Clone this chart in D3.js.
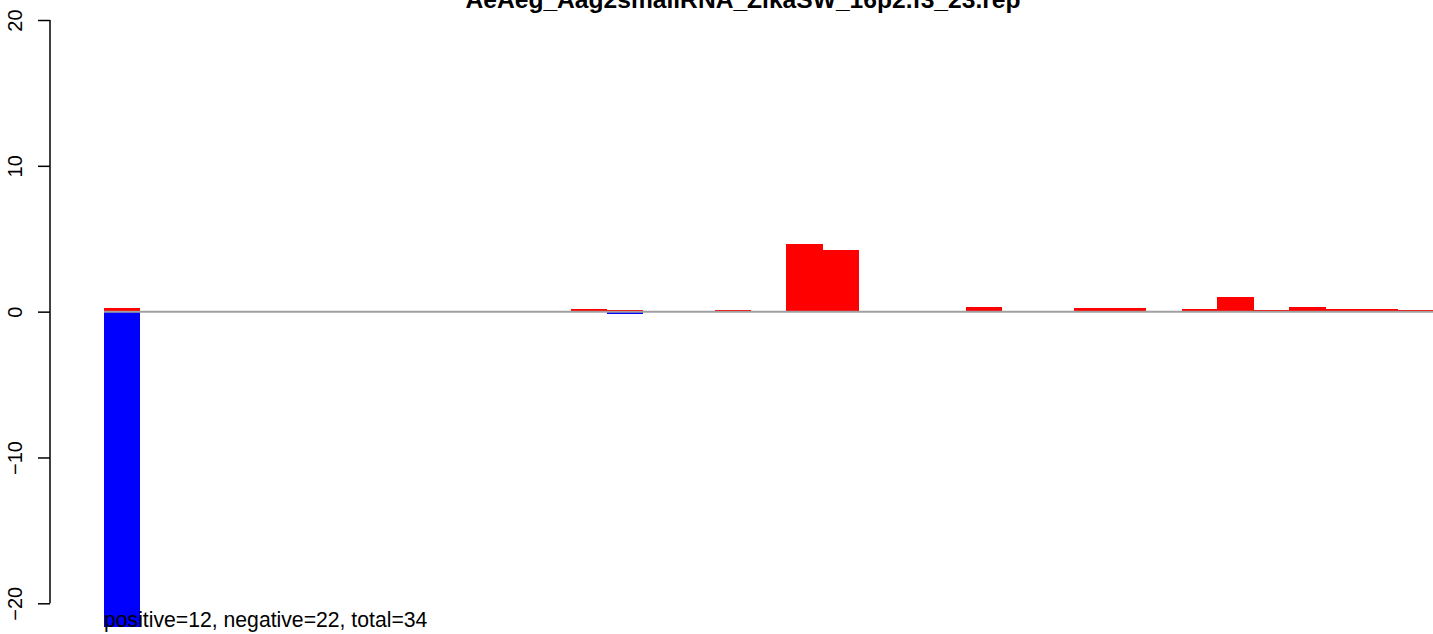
<!DOCTYPE html>
<html>
<head>
<meta charset="utf-8">
<script src="https://cdn.jsdelivr.net/npm/d3@7"></script>
<style>
  html, body { margin: 0; padding: 0; background: #fff; }
  svg { display: block; }
  text { font-family: "Liberation Sans", Arial, Helvetica, sans-serif; }
</style>
</head>
<body>
<svg id="chart" width="1433" height="634"></svg>
<script>
// ---- data ----
const titleText = "AeAeg_Aag2smallRNA_ZikaSW_16p2.f3_23.rep";
const positions = d3.range(37);               // bar bins (0..36)
const positiveValues = [0.25,0,0,0,0,0,0,0,0,0,0,0,0,0.18,0.12,0,0,0.12,0,4.64,4.23,0,0,0,0.34,0,0,0.25,0.25,0,0.18,1.03,0.12,0.32,0.18,0.18,0.12];
const negativeValues = [-21.6,0,0,0,0,0,0,0,0,0,0,0,0,0,-0.15,0,0,0,0,0,0,0,0,0,0,0,0,0,0,0,0,0,0,0,0,0,0];
const yTicks = [-20, -10, 0, 10, 20];
const footnote = "positive=12, negative=22, total=34";

// ---- layout ----
const svg = d3.select("#chart");
const x = d3.scaleBand().domain(positions).range([104, 1433]).padding(0);
const y = d3.scaleLinear().domain([-20, 20]).range([603.3, 20]);

// bars
svg.append("g").attr("shape-rendering", "crispEdges").selectAll("rect")
  .data(positions.filter(i => positiveValues[i] !== 0))
  .join("rect")
  .attr("x", i => x(i))
  .attr("width", x.bandwidth() + 0.5)
  .attr("y", i => y(positiveValues[i]))
  .attr("height", i => y(0) - y(positiveValues[i]))
  .attr("fill", "#ff0000");

svg.append("g").attr("shape-rendering", "crispEdges").selectAll("rect")
  .data(positions.filter(i => negativeValues[i] !== 0))
  .join("rect")
  .attr("x", i => x(i))
  .attr("width", x.bandwidth())
  .attr("y", y(0))
  .attr("height", i => y(negativeValues[i]) - y(0))
  .attr("fill", "#0000ff");

// zero line
svg.append("line")
  .attr("x1", 104).attr("x2", 1433)
  .attr("y1", y(0)).attr("y2", y(0))
  .attr("stroke", "#a0a0a0").attr("stroke-width", 2);

// y axis
const axis = d3.axisLeft(y).tickValues(yTicks).tickSize(12)
  .tickFormat(d => d < 0 ? "\u2212" + Math.abs(d) : String(d));
const gA = svg.append("g").attr("transform", "translate(50,0)").call(axis);
gA.select(".domain").attr("d", `M0,${y(-20)}V${y(20)}`).attr("stroke", "#000").attr("stroke-width", 1.5);
gA.selectAll(".tick line").attr("stroke", "#000").attr("stroke-width", 1.5);
gA.selectAll(".tick text")
  .attr("font-size", 20)
  .attr("font-family", "Liberation Sans, Arial, sans-serif")
  .attr("fill", "#000")
  .attr("x", 0).attr("dy", 0)
  .attr("text-anchor", "middle")
  .attr("transform", "translate(-28,0) rotate(-90)");

// title
svg.append("text")
  .attr("x", 743).attr("y", 8)
  .attr("text-anchor", "middle")
  .attr("font-weight", "bold")
  .attr("font-size", 24.6)
  .text(titleText);

// footnote
svg.append("text")
  .attr("x", 104).attr("y", 627)
  .attr("font-size", 21.2)
  .text(footnote);
</script>
</body>
</html>
